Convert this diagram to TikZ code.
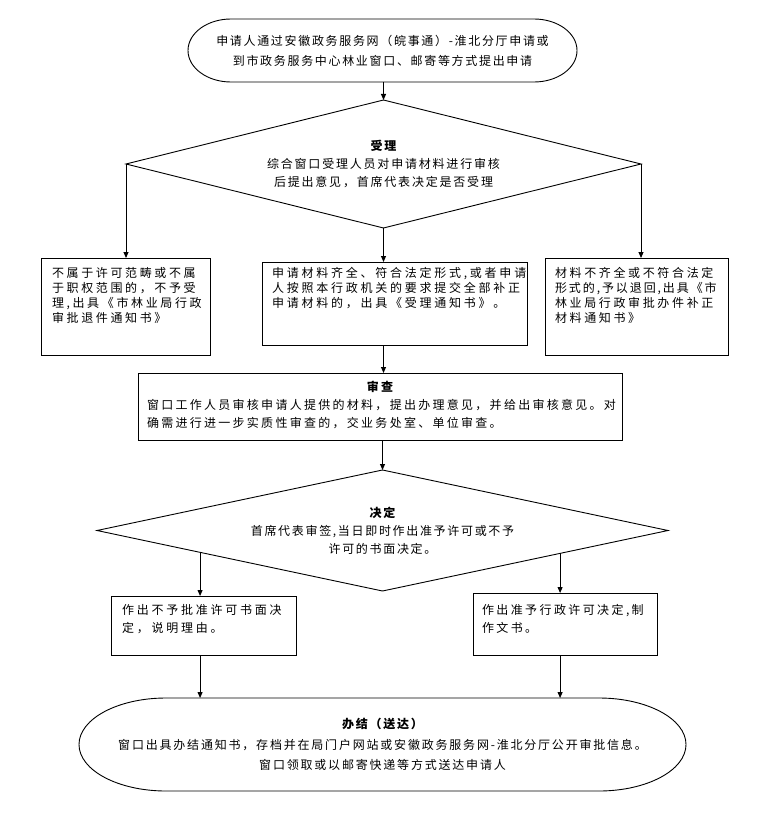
\documentclass[tikz,border=0pt]{standalone}
\usepackage{fontspec}
\newfontfamily\cjk{Noto Sans CJK SC}
\usetikzlibrary{shapes.geometric,arrows.meta,calc}
\newcommand\lsp[1]{\addfontfeatures{LetterSpace=#1}}
\newcommand\bxt[5]{\parbox[c][#1][t]{#2}{\leftskip=#3\relax\rule{0pt}{#4}#5}}
\tikzset{
 tx/.style 2 args={font={\cjk\fontsize{12pt}{#1}\selectfont\lsp{#2}}},
 line/.style={line width=0.9pt, draw=black},
 arr/.style={line, -{Triangle[length=6pt,width=5pt]}},
 bx/.style={draw, line width=0.9pt, inner sep=0pt, outer sep=0pt, rectangle},
 dia/.style={draw, line width=0.9pt, diamond, shape aspect=4.5, inner sep=0pt, outer sep=0pt, align=center},
 ovl/.style={inner sep=0pt, outer sep=0pt, align=center},
}
\newcommand\ovalline[3]{\draw[line] ([xshift=#2]#1.north west) -- ([xshift=-#2]#1.north east) arc[start angle=90,end angle=-90,x radius=#2,y radius=#3] -- ([xshift=#2]#1.south west) arc[start angle=270,end angle=90,x radius=#2,y radius=#3] -- cycle;}
\begin{document}
\begin{tikzpicture}[x=1pt,y=-1pt]
\useasboundingbox (0,0) rectangle (760,813);
% top
\node[ovl, tx={20pt}{14}, minimum width=389pt, minimum height=63pt] (top) at (382.5,50.5)
  {申请人通过安徽政务服务网（皖事通）-淮北分厅申请或\\到市政务服务中心林业窗口、邮寄等方式提出申请};
\ovalline{top}{43pt}{31.5pt}
% decision 1
\node[dia, tx={18pt}{15}, minimum width=515pt, minimum height=128pt] (d1) at (383.5,164)
  {{\bfseries 受理}\\综合窗口受理人员对申请材料进行审核\\后提出意见，首席代表决定是否受理};
% three boxes
\node[bx, tx={15pt}{22}] (b1) at (125.5,306.5)
  {\bxt{97pt}{169pt}{11pt}{19.6pt}{不属于许可范畴或不属\\于职权范围的，不予受\\理,出具《市林业局行政\\审批退件通知书》}};
\node[bx, tx={15pt}{23}] (b2) at (394.5,303.5)
  {\bxt{83pt}{265pt}{10pt}{15.6pt}{申请材料齐全、符合法定形式,或者申请\\人按照本行政机关的要求提交全部补正\\申请材料的，出具《受理通知书》。}};
\node[bx, tx={15pt}{22}] (b3) at (636.5,306.5)
  {\bxt{97pt}{183pt}{10pt}{19.6pt}{材料不齐全或不符合法定\\{\lsp{16}形式的,予以退回,出具《市}\\林业局行政审批办件补正\\材料通知书》}};
% review
\node[bx, tx={18pt}{19}] (b4) at (380,406.5)
  {\bxt{67pt}{484pt}{9pt}{18.6pt}{\hspace*{-9pt}\makebox[484pt]{\bfseries 审查}\\窗口工作人员审核申请人提供的材料，提出办理意见，并给出审核意见。对\\确需进行进一步实质性审查的，交业务处室、单位审查。}};
% decision 2
\node[dia, tx={18pt}{14}, minimum width=571pt, minimum height=121pt] (d2) at (382.5,530.5)
  {{\bfseries 决定}\\首席代表审签,当日即时作出准予许可或不予\\许可的书面决定。};
\coordinate (d2l) at ($(d2.west)!0.361!(d2.south)$);
\coordinate (d2r) at ($(d2.east)!0.378!(d2.south)$);
\node[bx, tx={18pt}{23}] (b5) at (203.5,625.5)
  {\bxt{59pt}{185pt}{11pt}{18.6pt}{作出不予批准许可书面决\\定，说明理由。}};
\node[bx, tx={18pt}{20}] (b6) at (565,624)
  {\bxt{62pt}{184pt}{9pt}{21.6pt}{作出准予行政许可决定,制\\作文书。}};
% final
\node[ovl, tx={20.5pt}{15}, minimum width=607pt, minimum height=93pt] (fin) at (382.5,744.5)
  {{\bfseries 办结（送达）}\\窗口出具办结通知书，存档并在局门户网站或安徽政务服务网-淮北分厅公开审批信息。\\窗口领取或以邮寄快递等方式送达申请人};
\ovalline{fin}{87pt}{46.5pt}
% connectors
\draw[arr] (d1.north |- top.south) -- (d1.north);
\draw[arr] (d1.west) -- (d1.west |- b1.north);
\draw[arr] (d1.south) -- (d1.south |- b2.north);
\draw[arr] (d1.east) -- (d1.east |- b3.north);
\draw[arr] (d1.south |- b2.south) -- (d1.south |- b4.north);
\draw[arr] (d2.north |- b4.south) -- (d2.north);
\draw[arr] (d2l) -- (d2l |- b5.north);
\draw[arr] (d2r) -- (d2r |- b6.north);
\draw[arr] (d2l |- b5.south) -- (d2l |- fin.north);
\draw[arr] (d2r |- b6.south) -- (d2r |- fin.north);
\end{tikzpicture}
\end{document}
